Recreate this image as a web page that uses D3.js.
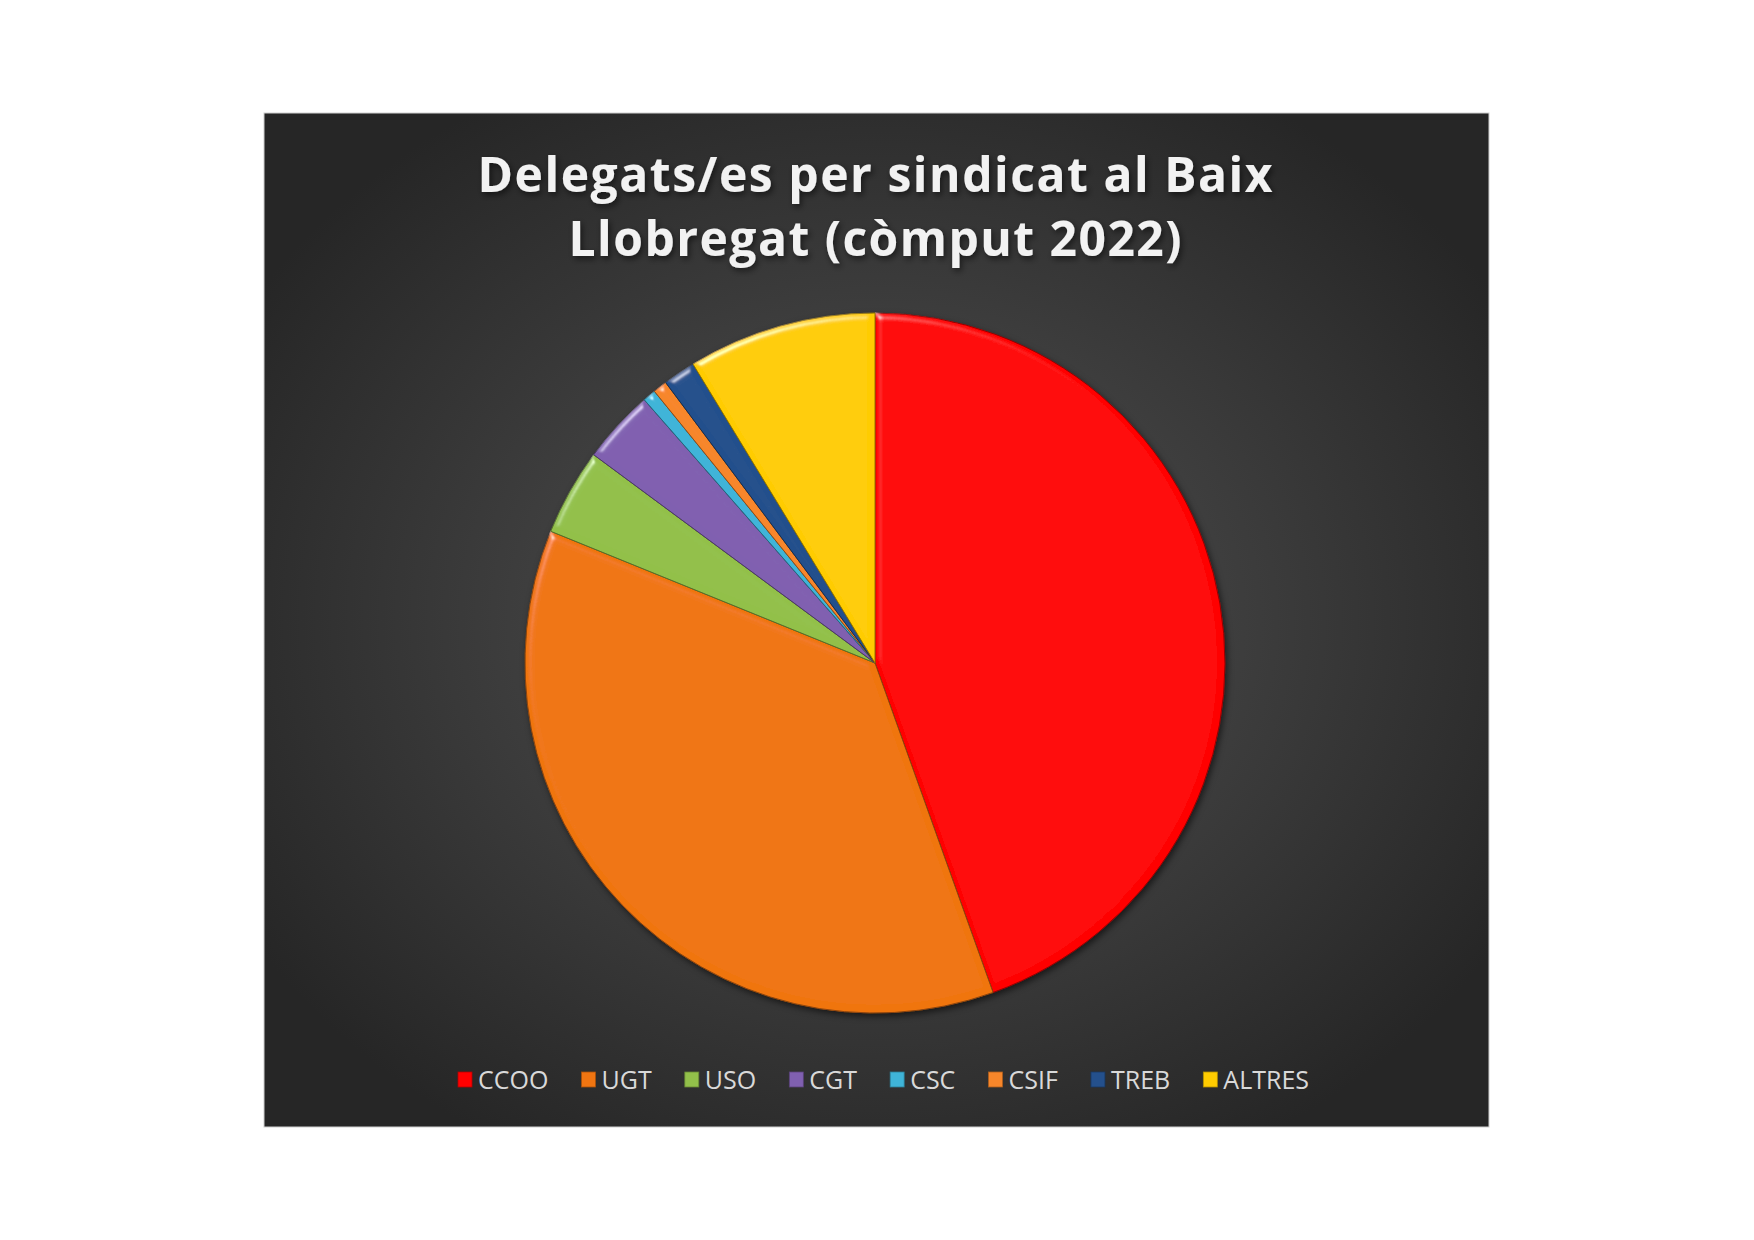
<!DOCTYPE html>
<html>
<head>
<meta charset="utf-8">
<script src="https://cdn.jsdelivr.net/npm/d3@7"></script>
<style>
  html, body { margin: 0; padding: 0; background: #fff; }
  svg { display: block; }
</style>
</head>
<body>
<svg id="chart"></svg>
<script>
const titleLines = ["Delegats/es per sindicat al Baix", "Llobregat (còmput 2022)"];
const unions = ["CCOO", "UGT", "USO", "CGT", "CSC", "CSIF", "TREB", "ALTRES"];
// share of delegates, %
const shares = [44.5, 36.6, 4.0, 3.4, 0.6, 0.65, 1.5, 8.7];
const colours = ["#ff0000", "#f07511", "#92c04a", "#8060b0", "#3fb4d8", "#f7862a", "#24508c", "#ffcc00"];

const width = 1754, height = 1240;
const panel = { x: 264, y: 113, w: 1225, h: 1014 };
const cx = 875, cy = 663, radius = 350;

const data = unions.map((name, i) => ({ name, value: shares[i], colour: colours[i] }));

const svg = d3.select("#chart")
  .attr("width", width)
  .attr("height", height)
  .attr("viewBox", [0, 0, width, height]);

const defs = svg.append("defs");

const bg = defs.append("radialGradient")
  .attr("id", "bg")
  .attr("cx", "50%").attr("cy", "50%").attr("r", "60%");
bg.append("stop").attr("offset", "0%").attr("stop-color", "#545454");
bg.append("stop").attr("offset", "100%").attr("stop-color", "#262626");

// soft bevel on the slice edges only
const bevel = defs.append("filter").attr("id", "bevel")
  .attr("x", "-5%").attr("y", "-5%").attr("width", "110%").attr("height", "110%");
bevel.append("feGaussianBlur").attr("in", "SourceAlpha").attr("stdDeviation", 3.5).attr("result", "blur");
bevel.append("feSpecularLighting")
  .attr("in", "blur").attr("surfaceScale", 5).attr("specularConstant", 0.8)
  .attr("specularExponent", 35).attr("lighting-color", "#ffffff").attr("result", "spec")
  .append("feDistantLight").attr("azimuth", 235).attr("elevation", 30);
bevel.append("feComposite").attr("in", "spec").attr("in2", "SourceAlpha").attr("operator", "in").attr("result", "specOut");
bevel.append("feComposite").attr("in", "SourceGraphic").attr("in2", "specOut")
  .attr("operator", "arithmetic").attr("k1", 0).attr("k2", 1).attr("k3", 0.6).attr("k4", 0);

const shadow = defs.append("filter").attr("id", "shadow")
  .attr("x", "-10%").attr("y", "-10%").attr("width", "120%").attr("height", "120%");
shadow.append("feDropShadow").attr("dx", 2).attr("dy", 3).attr("stdDeviation", 3)
  .attr("flood-color", "#000").attr("flood-opacity", 0.55);

// panel
svg.append("rect")
  .attr("x", panel.x).attr("y", panel.y)
  .attr("width", panel.w).attr("height", panel.h)
  .attr("fill", "url(#bg)")
  .attr("stroke", "#d0d0d0").attr("stroke-width", 1);

// title
const title = svg.append("g")
  .attr("font-family", "'Open Sans', 'Noto Sans', sans-serif")
  .attr("font-weight", "bold")
  .attr("font-size", 48)
  .attr("fill", "#f2f2f2")
  .attr("text-anchor", "middle")
  .attr("filter", "url(#shadow)");
const titleWidths = [795, 613];
title.selectAll("text")
  .data(titleLines)
  .join("text")
  .attr("x", cx)
  .attr("y", (d, i) => 192 + i * 64)
  .attr("textLength", (d, i) => titleWidths[i])
  .attr("lengthAdjust", "spacing")
  .text(d => d);

// pie
const pie = d3.pie().value(d => d.value).sort(null);
const arc = d3.arc().innerRadius(0).outerRadius(radius);

const pieG = svg.append("g")
  .attr("transform", `translate(${cx},${cy})`)
  .attr("filter", "url(#shadow)");

pieG.selectAll("path")
  .data(pie(data))
  .join("path")
  .attr("d", arc)
  .attr("fill", d => d.data.colour)
  .attr("stroke", d => d3.color(d.data.colour).darker(1.5))
  .attr("stroke-width", 1)
  .attr("filter", "url(#bevel)");

// legend
const legend = svg.append("g")
  .attr("font-family", "'Open Sans', 'Noto Sans', sans-serif")
  .attr("font-size", 25)
  .attr("fill", "#d9d9d9");

const items = legend.selectAll("g")
  .data(data)
  .join("g");

items.append("rect")
  .attr("y", -8).attr("width", 14).attr("height", 15)
  .attr("fill", d => d.colour)
  .attr("stroke", d => d3.color(d.colour).darker(1))
  .attr("stroke-width", 0.8);

items.append("text")
  .attr("x", 20)
  .attr("dy", "0.35em")
  .text(d => d.name);

// lay out the legend in one row across the measured span
const legendLeft = 458, legendRight = 1309;
const itemWidths = [];
items.each(function () {
  itemWidths.push(20 + d3.select(this).select("text").node().getComputedTextLength());
});
const gap = (legendRight - legendLeft - d3.sum(itemWidths)) / (itemWidths.length - 1);
const starts = itemWidths.map((w, i) => legendLeft + d3.sum(itemWidths.slice(0, i)) + i * gap);
items.attr("transform", (d, i) => `translate(${starts[i]},1080)`);
</script>
</body>
</html>
